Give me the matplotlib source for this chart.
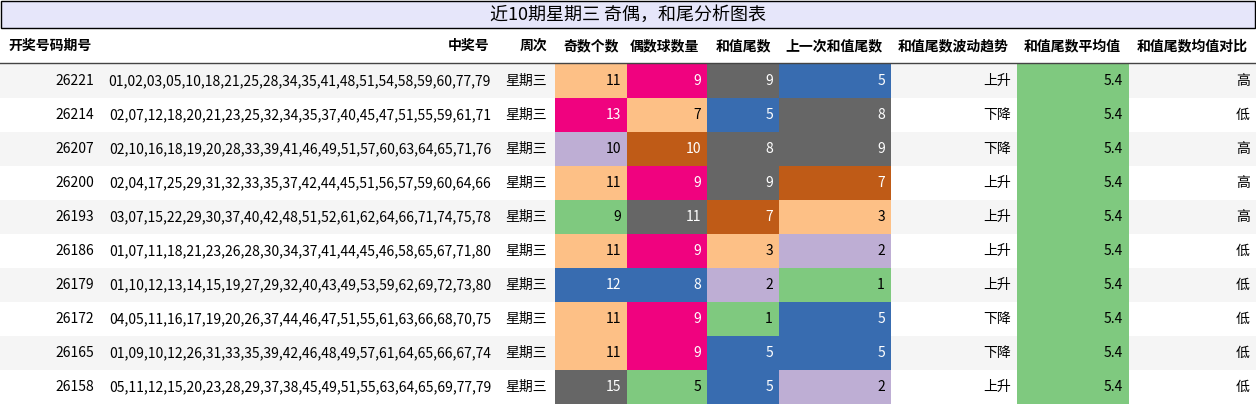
import matplotlib
matplotlib.use("Agg")
import matplotlib.pyplot as plt
from matplotlib.patches import Rectangle

plt.rcParams['font.family'] = ['Noto Sans CJK SC', 'DejaVu Sans']

title = "近10期星期三 奇偶，和尾分析图表"
headers = ["开奖号码期号", "中奖号", "周次", "奇数个数", "偶数球数量", "和值尾数", "上一次和值尾数", "和值尾数波动趋势", "和值尾数平均值", "和值尾数均值对比"]
issues = ["26221", "26214", "26207", "26200", "26193", "26186", "26179", "26172", "26165", "26158"]
numbers = [
    "01,02,03,05,10,18,21,25,28,34,35,41,48,51,54,58,59,60,77,79",
    "02,07,12,18,20,21,23,25,32,34,35,37,40,45,47,51,55,59,61,71",
    "02,10,16,18,19,20,28,33,39,41,46,49,51,57,60,63,64,65,71,76",
    "02,04,17,25,29,31,32,33,35,37,42,44,45,51,56,57,59,60,64,66",
    "03,07,15,22,29,30,37,40,42,48,51,52,61,62,64,66,71,74,75,78",
    "01,07,11,18,21,23,26,28,30,34,37,41,44,45,46,58,65,67,71,80",
    "01,10,12,13,14,15,19,27,29,32,40,43,49,53,59,62,69,72,73,80",
    "04,05,11,16,17,19,20,26,37,44,46,47,51,55,61,63,66,68,70,75",
    "01,09,10,12,26,31,33,35,39,42,46,48,49,57,61,64,65,66,67,74",
    "05,11,12,15,20,23,28,29,37,38,45,49,51,55,63,64,65,69,77,79",
]
weekday = ["星期三"] * 10
odd = [11, 13, 10, 11, 9, 11, 12, 11, 11, 15]
even = [9, 7, 10, 9, 11, 9, 8, 9, 9, 5]
tail = [9, 5, 8, 9, 7, 3, 2, 1, 5, 5]
prev_tail = [5, 8, 9, 7, 3, 2, 1, 5, 5, 2]
trend = ["上升", "下降", "下降", "上升", "上升", "上升", "上升", "下降", "下降", "上升"]
avg = [5.4] * 10
compare = ["高", "低", "高", "高", "高", "低", "低", "低", "低", "低"]

G, P, O, B, K, BR, GR = "#7fc97f", "#beaed4", "#fdc086", "#386cb0", "#f0027f", "#bf5b17", "#666666"
odd_cmap = {9: G, 10: P, 11: O, 12: B, 13: K, 15: GR}
even_cmap = {5: G, 7: O, 8: B, 9: K, 10: BR, 11: GR}
tail_cmap = {1: G, 2: P, 3: O, 5: B, 7: BR, 8: GR, 9: GR}
dark = {B, K, BR, GR}

W, H = 1256, 405
fig = plt.figure(figsize=(W / 100, H / 100), dpi=100)
ax = fig.add_axes([0, 0, 1, 1])
ax.set_xlim(0, W); ax.set_ylim(H, 0); ax.axis('off')

edges = [0, 100, 497, 555, 627, 707, 779, 891, 1017, 1129, 1256]
ax.add_patch(Rectangle((1, 1), W - 2, 27, facecolor="#e6e6fa", edgecolor="black", lw=1))
ax.text(W / 2, 15, title, ha='center', va='center', fontsize=13)
hy = 46
for i, h in enumerate(headers):
    x = edges[i + 1] - 8
    ax.text(x if i != 0 else 8, hy, h, ha='right' if i != 0 else 'left', va='center', fontsize=10, fontweight='bold')
ax.plot([0, W], [63, 63], color='#444444', lw=1)

rh = 34
for r in range(10):
    y0 = 64 + r * rh
    yc = y0 + rh / 2
    if r % 2 == 0:
        ax.add_patch(Rectangle((0, y0), W, rh, facecolor="#f5f5f5", edgecolor='none'))
    vals = [issues[r], numbers[r], weekday[r], str(odd[r]), str(even[r]), str(tail[r]),
            str(prev_tail[r]), trend[r], f"{avg[r]}", compare[r]]
    cols = [None, None, None, odd_cmap[odd[r]], even_cmap[even[r]], tail_cmap[tail[r]],
            tail_cmap[prev_tail[r]], None, G, None]
    for c, v in enumerate(vals):
        fc = cols[c]
        tc = 'black'
        if fc:
            ax.add_patch(Rectangle((edges[c], y0), edges[c + 1] - edges[c], rh, facecolor=fc, edgecolor='none'))
            if fc in dark:
                tc = 'white'
        if c == 2:
            ax.text((edges[c] + edges[c + 1]) / 2, yc, v, ha='center', va='center', fontsize=10, color=tc)
        else:
            ax.text(edges[c + 1] - 6, yc, v, ha='right', va='center', fontsize=10, color=tc)

fig.savefig("out.png", dpi=100)
